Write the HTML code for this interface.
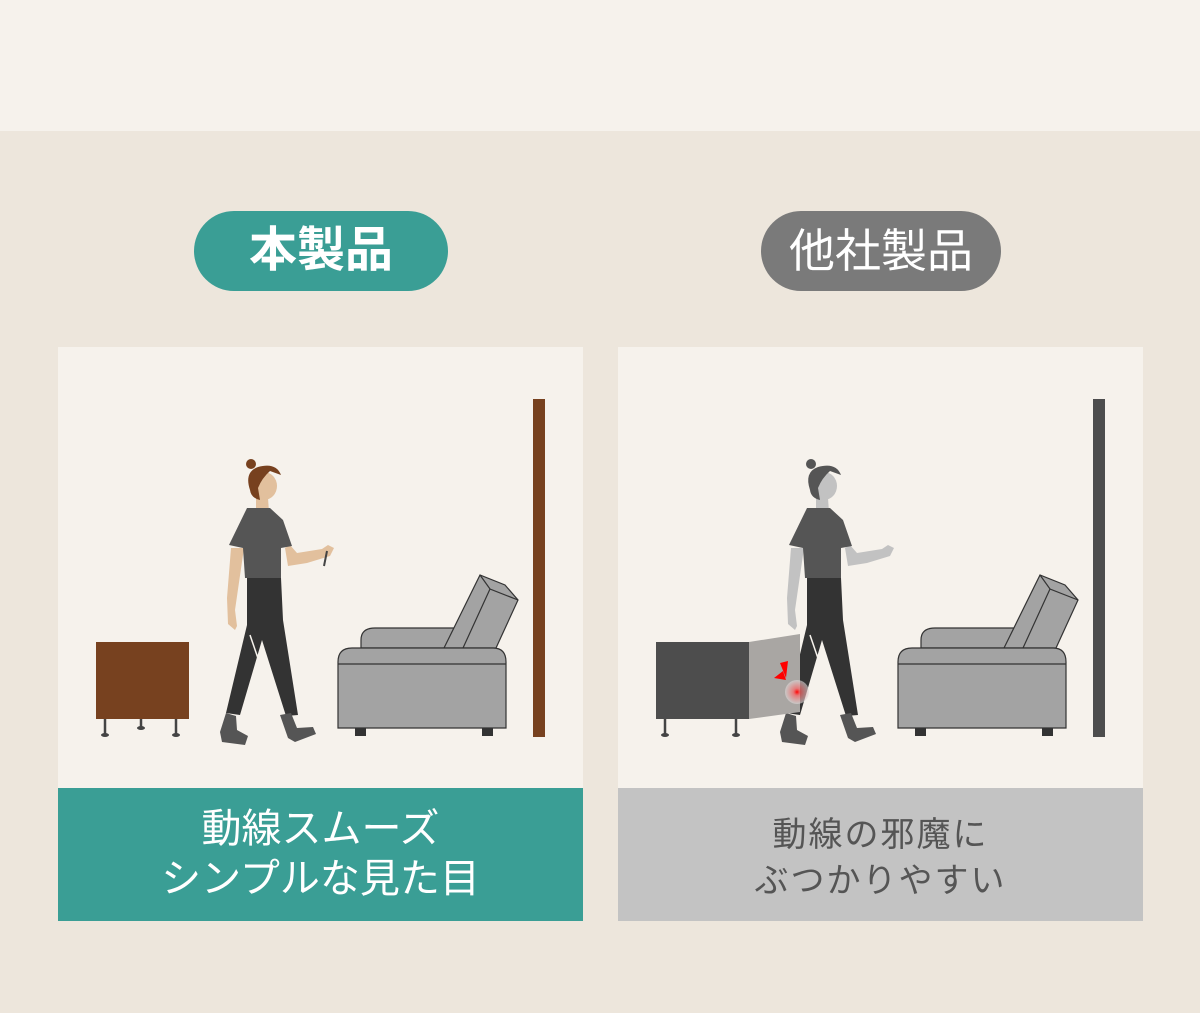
<!DOCTYPE html>
<html><head><meta charset="utf-8"><style>
body{margin:0;width:1200px;height:1013px;background:#ede6dc;font-family:"Liberation Sans","Noto Sans CJK JP",sans-serif;position:relative;overflow:hidden}
.top{position:absolute;left:0;top:0;width:1200px;height:131px;background:#f6f2ec}
.pill{position:absolute;top:211px;height:80px;border-radius:40px;color:#fff;font-size:46px;line-height:80px;text-align:center}
.cap{position:absolute;top:788px;width:525px;height:133px;font-size:40px;line-height:50px;text-align:center;box-sizing:border-box;padding-top:16px}
svg{position:absolute;left:0;top:0}
</style></head><body>
<div class="top"></div>
<div class="pill" style="left:194px;width:254px;background:#3a9e95;font-weight:bold;font-size:48px">本製品</div>
<div class="pill" style="left:761px;width:240px;background:#7a7a7a">他社製品</div>
<svg width="1200" height="1013">
<defs>
<g id="sofa">
<path d="M361,648 V640 Q361,628 375,628 H460 V648 Z" fill="#a3a3a3" stroke="#333" stroke-width="1.2"/>
<path d="M444,648 L480,575 L505,585 L518,600 L496,648 Z" fill="#a3a3a3" stroke="#333" stroke-width="1.2"/>
<path d="M480,575 L490,589 L518,600 M490,589 L463,648" fill="none" stroke="#333" stroke-width="1.2"/>
<path d="M338,728 V662 Q338,648 352,648 H493 Q506,648 506,662 V728 Z" fill="#a3a3a3" stroke="#333" stroke-width="1.2"/>
<line x1="338" y1="664" x2="506" y2="664" stroke="#333" stroke-width="1.2"/>
<rect x="355" y="728" width="11" height="8" fill="#333"/><rect x="482" y="728" width="11" height="8" fill="#333"/>
</g>
<g id="legs">
<path d="M247,578 L281,578 L283,620 L298,715 L286,716 L262,640 L240,715 L226,713 L247,625 Z" fill="#333"/>
<line x1="250" y1="635" x2="262" y2="670" stroke="#f6f2ec" stroke-width="1.5"/>
<path d="M226,713 L236,716 L237,730 L248,736 L245,745 L222,742 L220,732 Z" fill="#555"/>
<path d="M280,715 L291,713 L297,728 L313,727 L316,734 L295,742 L288,738 Z" fill="#555"/>
<path d="M229,545 L247,508 L260,508 L270,508 L283,520 L292,546 L281,548 L281,578 L245,578 L243,548 Z" fill="#555"/>
</g>
</defs>
<rect x="58" y="347" width="525" height="441" fill="#f6f2ec"/>
<rect x="618" y="347" width="525" height="441" fill="#f6f2ec"/>
<rect x="533" y="399" width="12" height="338" fill="#77411f"/>
<rect x="96" y="642" width="93" height="77" fill="#77411f"/>
<g stroke="#444" stroke-width="2.5"><line x1="105" y1="719" x2="105" y2="734"/><line x1="141" y1="719" x2="141" y2="727"/><line x1="176" y1="719" x2="176" y2="734"/></g>
<g fill="#444"><ellipse cx="105" cy="735" rx="4" ry="2"/><ellipse cx="141" cy="728" rx="4" ry="2"/><ellipse cx="176" cy="735" rx="4" ry="2"/></g>
<use href="#sofa"/>
<path d="M231,548 L244,548 L235,610 L237,626 L235,630 L228,624 L227,598 Z" fill="#e2c09d"/>
<path d="M256,498 L268,498 L269,512 L262,513 L256,510 Z" fill="#e2c09d"/>
<path d="M285,548 L290,545 L297,553 L322,549 L328,545 L334,548 L330,556 L307,563 L288,566 Z" fill="#e2c09d"/>
<line x1="327" y1="551" x2="324" y2="566" stroke="#444" stroke-width="2"/>
<use href="#legs"/>
<ellipse cx="264" cy="486" rx="13" ry="14" fill="#e2c09d"/>
<path d="M250,490 Q244,472 258,467 Q276,462 281,475 L270,471 Q262,478 258,488 L260,500 Q251,498 250,490 Z" fill="#77411f"/>
<circle cx="251" cy="464" r="5" fill="#77411f"/>
<rect x="1093" y="399" width="12" height="338" fill="#4d4d4d"/>
<use href="#sofa" transform="translate(560,0)"/>
<g stroke="#444" stroke-width="2.5"><line x1="665" y1="719" x2="665" y2="734"/><line x1="736" y1="719" x2="736" y2="734"/></g>
<g fill="#444"><ellipse cx="665" cy="735" rx="4" ry="2"/><ellipse cx="736" cy="735" rx="4" ry="2"/></g>
<path d="M791,548 L804,548 L795,610 L797,626 L795,630 L788,624 L787,598 Z" fill="#c2c2c2"/>
<path d="M816,498 L828,498 L829,512 L822,513 L816,510 Z" fill="#c2c2c2"/>
<path d="M845,548 L850,545 L857,553 L882,549 L888,545 L894,548 L890,556 L867,563 L848,566 Z" fill="#c2c2c2"/>
<use href="#legs" transform="translate(560,0)"/>
<ellipse cx="824" cy="486" rx="13" ry="14" fill="#c2c2c2"/>
<path d="M810,490 Q804,472 818,467 Q836,462 841,475 L830,471 Q822,478 818,488 L820,500 Q811,498 810,490 Z" fill="#555"/>
<circle cx="811" cy="464" r="5" fill="#555"/>
<rect x="656" y="642" width="93" height="77" fill="#4d4d4d"/>
<path d="M749,642 L800,634 L800,712 L749,719 Z" fill="#a9a6a3"/>
<defs><radialGradient id="rg"><stop offset="0" stop-color="#f00"/><stop offset="0.3" stop-color="#f66" stop-opacity="0.7"/><stop offset="1" stop-color="#ddd" stop-opacity="0.6"/></radialGradient></defs>
<circle cx="797" cy="692" r="12" fill="url(#rg)"/>
<path d="M780,663 L788,661 L786,678 Z M774,678 L783,671 L786,680 Z" fill="#f00"/>
</svg>
<div class="cap" style="left:58px;background:#3a9e95;color:#fff">動線スムーズ<br>シンプルな見た目</div>
<div class="cap" style="left:618px;background:#c3c3c3;color:#555;font-size:34px;padding-top:24px;line-height:46px;letter-spacing:2px">動線の邪魔に<br>ぶつかりやすい</div>
</body></html>
